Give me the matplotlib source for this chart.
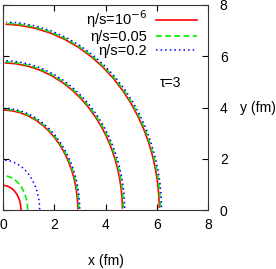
import numpy as np
import matplotlib
matplotlib.use("Agg")
import matplotlib.pyplot as plt

plt.rcParams['font.family'] = ['Liberation Sans', 'DejaVu Sans']

# angle along each contour (degrees from the x axis)
theta_deg = [1, 5, 10, 15, 20, 25, 30, 35, 40, 45, 50, 55, 60, 65, 70, 75, 80, 85, 89]

# radius of each contour (fm)
r_ideal = [
    [6.10, 6.107, 6.127, 6.161, 6.207, 6.266, 6.336, 6.416, 6.505, 6.601,
     6.701, 6.803, 6.902, 6.996, 7.080, 7.151, 7.204, 7.238, 7.25],
    [4.66, 4.666, 4.684, 4.714, 4.756, 4.809, 4.872, 4.946, 5.027, 5.116,
     5.210, 5.306, 5.401, 5.492, 5.574, 5.643, 5.696, 5.729, 5.74],
    [2.92, 2.925, 2.940, 2.964, 2.998, 3.042, 3.095, 3.157, 3.228, 3.306,
     3.390, 3.477, 3.566, 3.653, 3.733, 3.802, 3.855, 3.888, 3.90],
    [0.70, 0.701, 0.705, 0.711, 0.720, 0.731, 0.745, 0.761, 0.779, 0.800,
     0.822, 0.845, 0.869, 0.892, 0.914, 0.933, 0.947, 0.957, 0.96],
]
r_005 = [
    [6.14, 6.147, 6.167, 6.201, 6.247, 6.306, 6.376, 6.456, 6.545, 6.641,
     6.741, 6.843, 6.942, 7.036, 7.120, 7.191, 7.244, 7.278, 7.29],
    [4.70, 4.706, 4.724, 4.754, 4.796, 4.849, 4.912, 4.986, 5.067, 5.156,
     5.250, 5.346, 5.441, 5.532, 5.614, 5.683, 5.736, 5.769, 5.78],
    [2.955, 2.960, 2.975, 2.999, 3.033, 3.077, 3.130, 3.192, 3.263, 3.341,
     3.425, 3.512, 3.601, 3.688, 3.768, 3.837, 3.890, 3.923, 3.935],
    [0.96, 0.962, 0.967, 0.976, 0.989, 1.005, 1.024, 1.048, 1.074, 1.104,
     1.136, 1.170, 1.205, 1.239, 1.271, 1.299, 1.321, 1.335, 1.34],
]
r_02 = [
    [6.19, 6.197, 6.217, 6.251, 6.297, 6.356, 6.426, 6.506, 6.595, 6.691,
     6.791, 6.893, 6.992, 7.086, 7.170, 7.241, 7.294, 7.328, 7.34],
    [4.75, 4.756, 4.774, 4.804, 4.846, 4.899, 4.962, 5.036, 5.117, 5.206,
     5.300, 5.396, 5.491, 5.582, 5.664, 5.733, 5.786, 5.819, 5.83],
    [2.995, 3.000, 3.015, 3.039, 3.073, 3.117, 3.170, 3.232, 3.303, 3.381,
     3.465, 3.552, 3.641, 3.728, 3.808, 3.877, 3.930, 3.963, 3.975],
    [1.43, 1.433, 1.440, 1.453, 1.470, 1.493, 1.521, 1.553, 1.590, 1.631,
     1.675, 1.722, 1.769, 1.816, 1.859, 1.896, 1.925, 1.944, 1.95],
]

labels = ['η/s=10$^{-6}$', 'η/s=0.05', 'η/s=0.2']
ticks = [0, 2, 4, 6, 8]
fs = 10

fig = plt.figure(figsize=(2.76, 2.69), dpi=100)
ax = fig.add_axes([3 / 276, 1 - 210 / 269, 205 / 276, 205 / 269])

th = np.radians(theta_deg)
styles = [
    (r_ideal, dict(color='#ff0000', ls='-', lw=1.2)),
    (r_005, dict(color='#00ee00', ls=(0, (3.5, 2)), lw=1.2)),
    (r_02, dict(color='#0000ff', ls=(0, (1, 2)), lw=1.1)),
]
for (rs, st), lab in zip(styles, labels):
    for i, r in enumerate(rs):
        r = np.array(r)
        ax.plot(r * np.cos(th), r * np.sin(th), **st,
                label=lab if i == 0 else None)

ax.set_xlim(0, 8)
ax.set_ylim(0, 8)
ax.set_xticks(ticks)
ax.set_yticks(ticks)
ax.tick_params(direction='in', length=4, width=0.8, labelsize=fs,
               top=True, right=True, left=True, bottom=True,
               labelleft=False, labelright=True)
ax.tick_params(axis='x', pad=6)
ax.tick_params(axis='y', pad=8.5)
for s in ax.spines.values():
    s.set_linewidth(0.8)
    s.set_color('#333333')

fig.text(106 / 276, 1 - 261 / 269, 'x (fm)', fontsize=fs,
         ha='center', va='center')
fig.text(240 / 276, 1 - 108 / 269, 'y (fm)', fontsize=fs, va='center')
ax.text(6.55, 4.95, 'τ=3', fontsize=fs, ha='center', va='center')

ax.legend(frameon=False, loc='upper right', markerfirst=False,
          fontsize=10.5, handlelength=2.8, handletextpad=0.62,
          labelspacing=0.0, borderaxespad=0, borderpad=0,
          bbox_to_anchor=(0.946, 0.985))

fig.savefig('out.png', dpi=100)
